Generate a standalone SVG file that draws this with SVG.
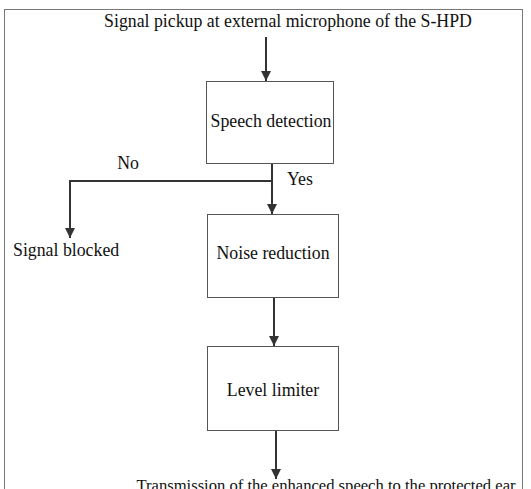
<svg xmlns="http://www.w3.org/2000/svg" width="531" height="489" viewBox="0 0 531 489">
<defs>
<marker id="ah" viewBox="0 0 10 10" refX="10" refY="5" markerWidth="10" markerHeight="10" markerUnits="userSpaceOnUse" orient="auto">
<path d="M0,0 L10,5 L0,10 z" fill="#333"/>
</marker>
</defs>
<style>
text{font-family:'Liberation Serif','Times New Roman',serif;font-size:17.8px;fill:#111}
.box{fill:#fff;stroke:#555;stroke-width:1}
.c{fill:none;stroke:#333;stroke-width:2}
</style>
<rect x="4.5" y="9.5" width="518" height="490" fill="#fff" stroke="#777" stroke-width="1"/>
<g font-family="Liberation Serif, serif">
<text x="288" y="27" text-anchor="middle">Signal pickup at external microphone of the S-HPD</text>
<g id="speech"><rect class="box" x="206.5" y="81.5" width="127" height="82"/><text x="271" y="127" text-anchor="middle">Speech detection</text></g>
<g id="noise"><rect class="box" x="207.5" y="214.5" width="131" height="83"/><text x="273" y="259" text-anchor="middle">Noise reduction</text></g>
<g id="level"><rect class="box" x="207.5" y="346.5" width="131" height="84"/><text x="273" y="396" text-anchor="middle">Level limiter</text></g>
<g id="blocked"><text x="13" y="256">Signal blocked</text></g>
<g id="connectors">
<line class="c" x1="266" y1="37" x2="266" y2="81" marker-end="url(#ah)"/>
<line class="c" x1="272" y1="164" x2="272" y2="214" marker-end="url(#ah)"/>
<polyline class="c" points="272,181 70,181 70,238" marker-end="url(#ah)"/>
<line class="c" x1="274" y1="298" x2="274" y2="346" marker-end="url(#ah)"/>
<line class="c" x1="276" y1="431" x2="276" y2="479" marker-end="url(#ah)"/>
<text x="128" y="169" text-anchor="middle">No</text>
<text x="300" y="185" text-anchor="middle">Yes</text>
</g>
<text x="326" y="491" text-anchor="middle" style="font-size:16.6px">Transmission of the enhanced speech to the protected ear</text>
</g>
</svg>
